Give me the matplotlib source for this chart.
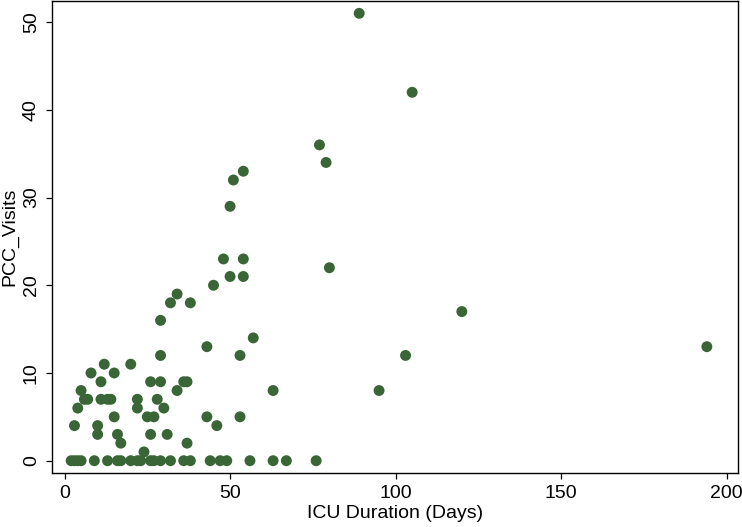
import matplotlib
matplotlib.use("Agg")
import matplotlib.pyplot as plt

plt.rcParams['font.family'] = ['Liberation Sans', 'DejaVu Sans']

# ICU duration (days) and PCC visits
icu_days = [2, 3, 4, 5, 9, 13, 16, 17, 20, 22, 23, 26, 27, 29, 32, 36, 38, 44, 47, 49, 56, 63, 67, 76,
            24,
            17, 37,
            10, 16, 26, 31,
            3, 10, 46,
            15, 25, 27, 43, 53,
            4, 22, 30,
            6, 7, 11, 13, 14, 22, 28,
            5, 34, 63, 95,
            11, 26, 29, 36, 37,
            8, 15,
            12, 20,
            29, 53, 103,
            43, 194,
            57,
            29,
            120,
            32, 38,
            34,
            45,
            50, 54,
            80,
            48, 54,
            50,
            51,
            54,
            79,
            77,
            105,
            89]
pcc_visits = [0] * 24 + [
            1,
            2, 2,
            3, 3, 3, 3,
            4, 4, 4,
            5, 5, 5, 5, 5,
            6, 6, 6,
            7, 7, 7, 7, 7, 7, 7,
            8, 8, 8, 8,
            9, 9, 9, 9, 9,
            10, 10,
            11, 11,
            12, 12, 12,
            13, 13,
            14,
            16,
            17,
            18, 18,
            19,
            20,
            21, 21,
            22,
            23, 23,
            29,
            32,
            33,
            34,
            36,
            42,
            51]

fig = plt.figure(figsize=(7.42, 5.27), dpi=100)
ax = fig.add_axes([0.0697, 0.102, 0.9253, 0.896])

ax.scatter(icu_days, pcc_visits, s=62, color='#3a6637', edgecolors='none', zorder=3)

ax.set_xlim(-3.87, 203.5)
ax.set_ylim(-1.43, 52.4)
ax.set_xticks([0, 50, 100, 150, 200])
ax.set_yticks([0, 10, 20, 30, 40, 50])

for sp in ax.spines.values():
    sp.set_linewidth(1.0)
    sp.set_color('black')

ax.tick_params(axis='both', direction='out', length=4.5, width=0.9, labelsize=14, colors='black')
ax.tick_params(axis='x', pad=4)
ax.tick_params(axis='y', pad=4)
for lab in ax.get_yticklabels():
    lab.set_rotation(90)
    lab.set_va('center')

ax.set_xlabel('ICU Duration (Days)', fontsize=14, labelpad=2)
ax.set_ylabel('PCC_Visits', fontsize=14, labelpad=3)

fig.savefig('out.png', dpi=100, facecolor='white')
